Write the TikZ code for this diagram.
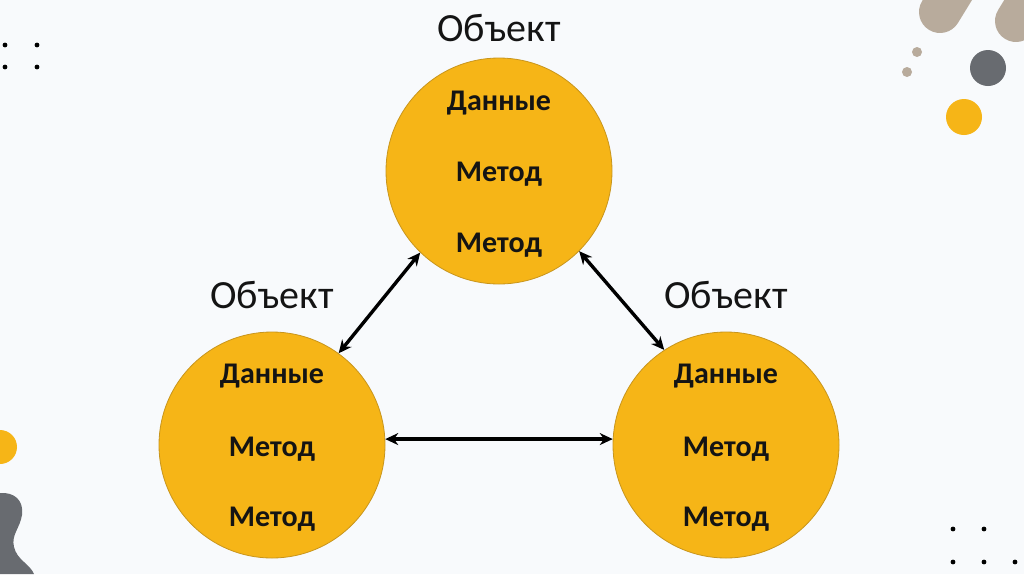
\documentclass[tikz,border=0pt]{standalone}
\usepackage{fontspec}
\setmainfont{Carlito}
\usetikzlibrary{arrows.meta}
\definecolor{bg}{HTML}{F8FAFC}
\definecolor{orb}{HTML}{F6B517}
\definecolor{orbline}{HTML}{C8951C}
\definecolor{beige}{HTML}{B8AB9C}
\definecolor{slate}{HTML}{686B70}
\definecolor{ink}{HTML}{141414}
\tikzset{
  obj/.style={circle, fill=orb, draw=orbline, line width=0.8pt, minimum size=226pt, inner sep=0pt},
  inner/.style={font=\fontsize{30}{34}\selectfont\bfseries, text=ink, anchor=base, inner sep=0pt},
  title/.style={font=\fontsize{40}{46}\selectfont, text=ink, anchor=base, inner sep=0pt},
  link/.style={line width=3.4pt, black, {Stealth[length=13pt,width=12pt]}-{Stealth[length=13pt,width=12pt]}},
  dot/.style={fill=black},
}
\begin{document}
\begin{tikzpicture}[x=1pt,y=-1pt]
\useasboundingbox (0,0) rectangle (1024,574);
\fill[bg] (0,0) rectangle (1024,574);
% decorations
\begin{scope}
\clip (0,0) rectangle (1024,574);
\draw[beige, line width=42pt, line cap=round] (940,12) -- (975,-45);
\draw[beige, line width=42pt, line cap=round] (1016,21) -- (1051,-36);
\fill[beige] (917,52) circle (5);
\fill[beige] (907,72) circle (5);
\fill[slate] (988,68) circle (18);
\fill[orb] (964,117) circle (18);
\fill[orb] (0,447) circle (17);
\fill[slate] (0,493) .. controls (14,492) and (24,500) .. (22,515)
  .. controls (20,528) and (11,535) .. (14,547)
  .. controls (17,560) and (30,564) .. (34,574) -- (0,574) -- cycle;
\end{scope}
\foreach \p in {(5,45),(37,45),(5,67),(37,67),(953,529),(984,529),(953,562),(984,562),(1015,562)}
  \fill[dot] \p circle (2.4);
% objects
\node[obj] (top) at (499,171) {};
\node[obj] (left) at (272,445) {};
\node[obj] (right) at (726,445) {};
\node[title] (ttop) at (499,41) {Объект};
\node[title] (tleft) at (272,308) {Объект};
\node[title] (tright) at (726,308) {Объект};
\node[inner] (d1) at (499,110) {Данные};
\node[inner] (m1a) at (499,181) {Метод};
\node[inner] (m1b) at (499,252) {Метод};
\node[inner] (d2) at (272,383) {Данные};
\node[inner] (m2a) at (272,456) {Метод};
\node[inner] (m2b) at (272,526) {Метод};
\node[inner] (d3) at (726,383) {Данные};
\node[inner] (m3a) at (726,456) {Метод};
\node[inner] (m3b) at (726,526) {Метод};
% connectors
\draw[link] (top.226) -- (left.54);
\draw[link] (top.315) -- (right.123);
\draw[link] (left.3) -- (right.177);
\end{tikzpicture}
\end{document}
